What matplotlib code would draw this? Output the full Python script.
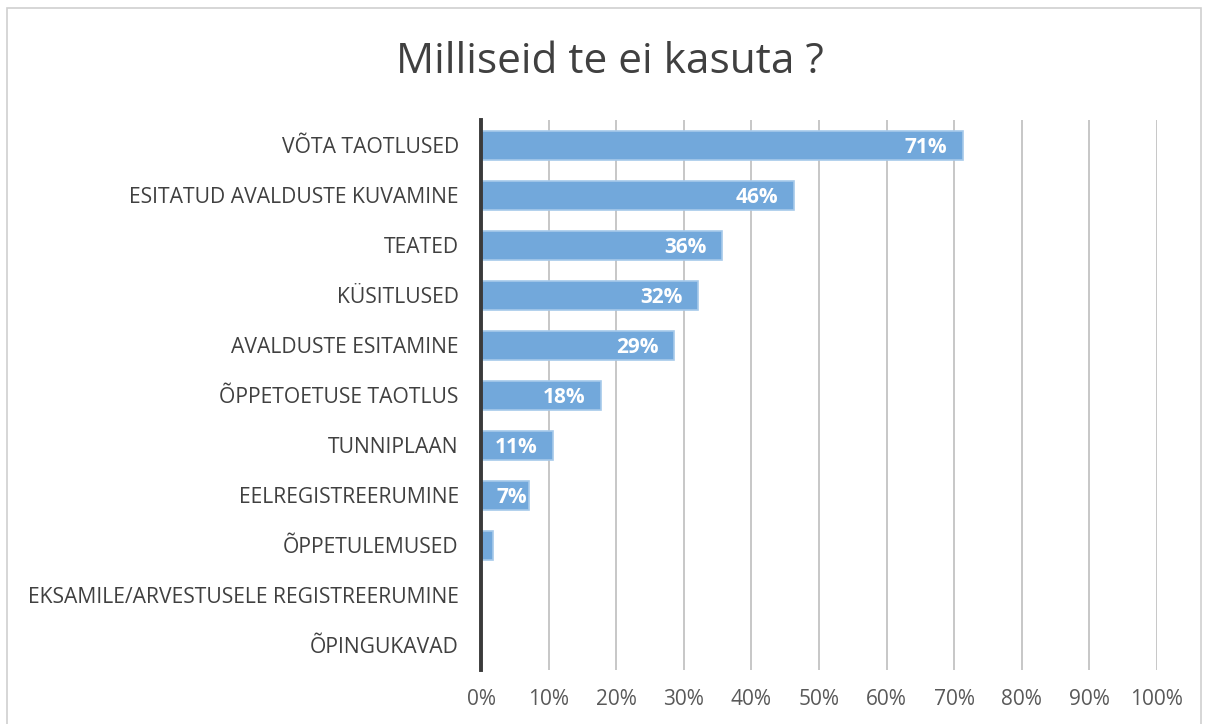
import numpy as np
import matplotlib.pyplot as plt
from matplotlib.patches import Rectangle

plt.rcParams['font.family'] = ['Open Sans', 'DejaVu Sans']

categories = ["VÕTA TAOTLUSED", "ESITATUD AVALDUSTE KUVAMINE", "TEATED",
              "KÜSITLUSED", "AVALDUSTE ESITAMINE", "ÕPPETOETUSE TAOTLUS",
              "TUNNIPLAAN", "EELREGISTREERUMINE", "ÕPPETULEMUSED",
              "EKSAMILE/ARVESTUSELE REGISTREERUMINE", "ÕPINGUKAVAD"]
values = [71.3, 46.3, 35.7, 32.1, 28.6, 17.8, 10.7, 7.1, 1.8, 0, 0]
labels = ["71%", "46%", "36%", "32%", "29%", "18%", "11%", "7%", "", "", ""]
x_ticks = np.arange(0, 101, 10)

W, H = 1206, 724
fig = plt.figure(figsize=(W / 100, H / 100), dpi=100)

# chart frame
fig.patches.append(Rectangle((7 / W, -0.01), 1194 / W, 1 - 8 / H + 0.01,
                             transform=fig.transFigure, fill=False,
                             edgecolor="#d0d0d0", lw=1.2))

ax = fig.add_axes([481 / W, 1 - 670 / H, 676 / W, 550 / H])

y = np.arange(len(categories))
ax.barh(y, values, height=0.58, color="#72a8db", edgecolor="#a6c9ea", lw=1.2, zorder=3)

for yi, v, lab in zip(y, values, labels):
    if not lab:
        continue
    # short bars: label starts near the axis instead of ending at the bar tip
    if v < 10:
        ax.text(2.3, yi, lab, ha="left", va="center_baseline", color="white",
                fontsize=15, fontweight="bold", zorder=4)
    else:
        ax.text(v - 2.3, yi, lab, ha="right", va="center_baseline", color="white",
                fontsize=15, fontweight="bold", zorder=4)

ax.set_xlim(0, 100)
ax.set_ylim(len(categories) - 0.5, -0.5)
ax.set_xticks(x_ticks)
ax.set_xticklabels([f"{t}%" for t in x_ticks], fontsize=15, color="#595959")
ax.set_yticks(y)
ax.set_yticklabels(categories, fontsize=15.2, color="#404040")
ax.tick_params(length=0)
ax.tick_params(axis="x", pad=14)
ax.tick_params(axis="y", pad=16)
ax.xaxis.grid(True, color="#bdbdbd", lw=1.2, zorder=0)
ax.set_axisbelow(True)
for s in ["top", "right", "bottom"]:
    ax.spines[s].set_visible(False)
ax.spines["left"].set_color("#3a3a3a")
ax.spines["left"].set_linewidth(2.8)
ax.spines["left"].set_zorder(5)

fig.text(610 / W, 1 - 62 / H, "Milliseid te ei kasuta ?", ha="center", va="center",
         fontsize=30.5, color="#404040")

fig.savefig("out.png", dpi=100)
